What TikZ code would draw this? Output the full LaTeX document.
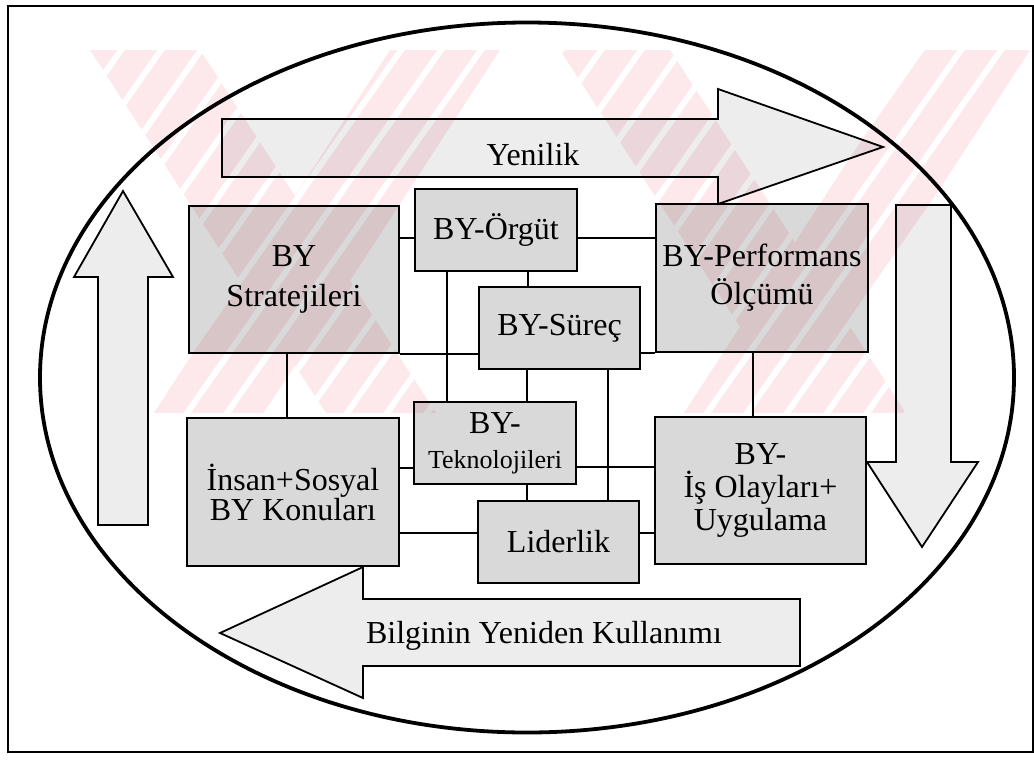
\documentclass[tikz,border=0pt]{standalone}
\usepackage{fontspec}
\setmainfont{Liberation Serif}
\usetikzlibrary{calc}
\definecolor{wmpink}{RGB}{253,232,236}
\begin{document}
\begin{tikzpicture}[x=1pt,y=-1pt,
  frame/.style={line width=1.4pt},
  oval/.style={line width=3.8pt},
  box/.style={draw, line width=2pt, fill=black, fill opacity=0.15, text opacity=1,
    inner sep=0pt, align=center},
  blockarrow/.style={draw, line width=1.8pt, fill=black, fill opacity=0.07, line join=miter},
  link/.style={line width=1.5pt},
  arrowtext/.style={anchor=base, font=\fontsize{32}{38}\selectfont}]
\useasboundingbox (0,0) rectangle (1034,764);

% background emblem: pale pink crossing bands with fine white hatching
\begin{scope}
  \clip (88,50) rectangle (1034,413);
  \fill[wmpink] (90,50) -- (200,50) -- (436,413) -- (326,413) -- cycle;
  \fill[wmpink] (390,50) -- (500,50) -- (264,413) -- (154,413) -- cycle;
  \fill[wmpink] (560,50) -- (670,50) -- (906,413) -- (796,413) -- cycle;
  \fill[wmpink] (920,50) -- (1030,50) -- (794,413) -- (684,413) -- cycle;
  \foreach \i in {0,...,44}
    \draw[white, line width=6pt] ({88+\i*40},40) -- ++(-268,383);
\end{scope}

% outer frame and oval
\draw[frame] (8,6) rectangle (1033,752);
\draw[oval] (527,377.5) ellipse [x radius=487pt, y radius=355pt];

% block arrows
\draw[blockarrow] (222,119) -- (718,119) -- (718,89) -- (883,147) -- (718,204)
  -- (718,177) -- (222,177) -- cycle;
\node[arrowtext] (yenilik) at (533,165) {Yenilik};
\draw[blockarrow] (98,525) -- (98,277) -- (74,277) -- (123,191) -- (173,277)
  -- (148,277) -- (148,525) -- cycle;
\draw[blockarrow] (896,205) -- (951,205) -- (951,462) -- (978,462) -- (922,547)
  -- (867,462) -- (896,462) -- cycle;
\draw[blockarrow] (800,599) -- (363,599) -- (363,567) -- (220,633) -- (363,698)
  -- (363,666) -- (800,666) -- cycle;
\node[arrowtext] (reuse) at (544,643) {Bilginin Yeniden Kullanımı};

% boxes
\node[box, minimum width=210pt, minimum height=147pt, font=\fontsize{32}{40}\selectfont]
  (strat) at (294,279.5) {BY\\Stratejileri};
\node[box, minimum width=162pt, minimum height=82pt, font=\fontsize{32}{38}\selectfont]
  (orgut) at (496,230) {BY-Örgüt};
\node[box, minimum width=161pt, minimum height=82pt, font=\fontsize{32}{38}\selectfont]
  (surec) at (559.5,328) {BY-Süreç};
\node[box, minimum width=212pt, minimum height=148pt, font=\fontsize{32}{38}\selectfont]
  (perf) at (762,278) {BY-Performans\\Ölçümü};
\node[box, minimum width=162pt, minimum height=82pt, font=\fontsize{32}{35}\selectfont]
  (tekno) at (495,443) {BY-\\{\fontsize{26}{35}\selectfont Teknolojileri}};
\node[box, minimum width=161pt, minimum height=82pt, font=\fontsize{32}{38}\selectfont]
  (lider) at (558.5,542) {Liderlik};
\node[box, minimum width=212pt, minimum height=148pt, font=\fontsize{32}{30}\selectfont]
  (insan) at (293,492) {İnsan+Sosyal\\BY Konuları};
\node[box, minimum width=211pt, minimum height=147pt, font=\fontsize{32}{33}\selectfont]
  (is) at (760.5,490.5) {BY-\\İş Olayları+\\Uygulama};

% connectors
\coordinate (c1) at ($(orgut.west)+(0,8)$);
\coordinate (c2) at ($(orgut.east)+(0,8)$);
\coordinate (c3) at ($(orgut.south)+(32,0)$);
\coordinate (c4) at ($(orgut.south)+(-49,0)$);
\coordinate (c5) at ($(strat.south)+(-7,0)$);
\coordinate (c6) at ($(surec.south)+(-32.5,0)$);
\coordinate (c7) at ($(surec.south)+(48.5,0)$);
\coordinate (c8) at ($(perf.south)+(-9,0)$);
\coordinate (c9) at ($(tekno.west)+(0,25)$);
\coordinate (c10) at ($(tekno.east)+(0,24)$);
\coordinate (c11) at ($(tekno.south)+(32,0)$);
\coordinate (c12) at ($(lider.west)+(0,-9)$);
\coordinate (c13) at ($(lider.east)+(0,-9)$);
\draw[link] (c1) -- (c1 -| strat.east);
\draw[link] (c2) -- (c2 -| perf.west);
\draw[link] (c3) -- (c3 |- surec.north);
\draw[link] (c4) -- (c4 |- tekno.north);
\draw[link] (strat.south east) -- (strat.south east -| surec.west);
\draw[link] (perf.south west) -- (perf.south west -| surec.east);
\draw[link] (c5) -- (c5 |- insan.north);
\draw[link] (c6) -- (c6 |- tekno.north);
\draw[link] (c7) -- (c7 |- lider.north);
\draw[link] (c8) -- (c8 |- is.north);
\draw[link] (c9) -- (c9 -| insan.east);
\draw[link] (c10) -- (c10 -| is.west);
\draw[link] (c11) -- (c11 |- lider.north);
\draw[link] (c12) -- (c12 -| insan.east);
\draw[link] (c13) -- (c13 -| is.west);
\end{tikzpicture}
\end{document}
